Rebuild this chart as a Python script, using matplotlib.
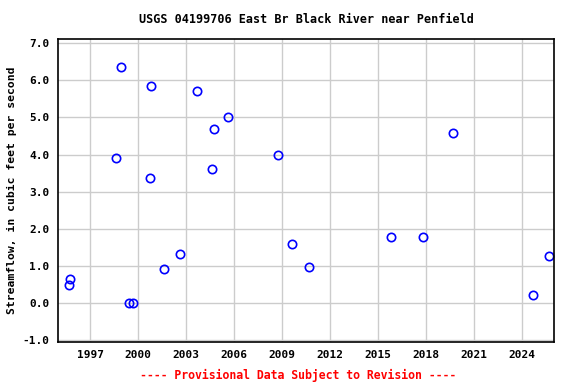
import matplotlib
matplotlib.use("Agg")
import matplotlib.pyplot as plt
import numpy as np

years = [1995.69, 1995.75, 1998.63, 1998.96, 1999.44, 1999.69, 2000.75, 2000.81,
         2001.63, 2002.63, 2003.69, 2004.63, 2004.75, 2005.63, 2008.75, 2009.63,
         2010.69, 2015.81, 2017.81, 2019.69, 2024.69, 2025.69]
flow = [0.49, 0.65, 3.91, 6.37, 0.0, 0.0, 3.37, 5.86,
        0.92, 1.32, 5.72, 3.62, 4.70, 5.02, 3.99, 1.59,
        0.97, 1.78, 1.78, 4.59, 0.22, 1.27]
xticks = [1997, 2000, 2003, 2006, 2009, 2012, 2015, 2018, 2021, 2024]
yticks = [-1.0, 0.0, 1.0, 2.0, 3.0, 4.0, 5.0, 6.0, 7.0]

font = "DejaVu Sans Mono"

fig = plt.figure(figsize=(5.76, 3.84), dpi=100)
ax = fig.add_axes([0.1007, 0.110, 0.8616, 0.7877])

ax.plot(years, flow, linestyle="none", marker="o", markersize=6,
        markerfacecolor="none", markeredgecolor="blue", markeredgewidth=1.2)

ax.set_xlim(1995.0, 2026.0)
ax.set_ylim(-1.05, 7.11)
ax.set_xticks(xticks)
ax.set_yticks(yticks)
ax.set_xticklabels([str(t) for t in xticks], fontfamily=font, fontweight="bold", fontsize=8)
ax.set_yticklabels([f"{t:.1f}" for t in yticks], fontfamily=font, fontweight="bold", fontsize=8)
ax.tick_params(length=0, pad=6)
ax.grid(True, color="#cccccc", linewidth=1)
ax.set_axisbelow(True)
for s in ax.spines.values():
    s.set_linewidth(1.2)

ax.set_ylabel("Streamflow, in cubic feet per second", fontfamily=font,
              fontweight="bold", fontsize=8.2, labelpad=4)
fig.text(0.532, 0.95, "USGS 04199706 East Br Black River near Penfield",
         ha="center", va="center", fontfamily=font, fontweight="bold", fontsize=8.5)
fig.text(0.518, 0.023, "---- Provisional Data Subject to Revision ----",
         ha="center", va="center", fontfamily=font, fontweight="bold",
         fontsize=8.3, color="red")

fig.savefig("out.png", dpi=100)
